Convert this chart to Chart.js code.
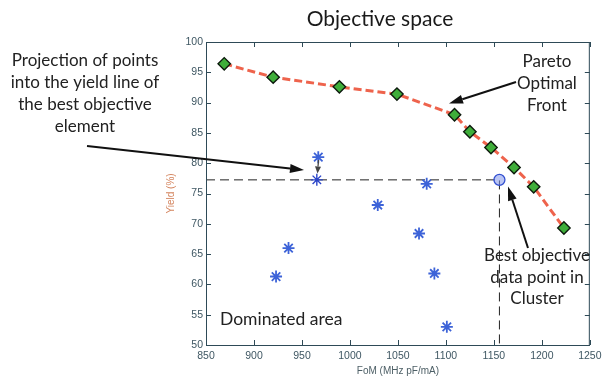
<!DOCTYPE html>
<html>
<head>
<meta charset="utf-8">
<script src="https://cdn.jsdelivr.net/npm/chart.js@4/dist/chart.umd.min.js"></script>
<style>
html,body{margin:0;padding:0;background:#fff;}
#wrap{width:606px;height:379px;position:relative;}
</style>
</head>
<body>
<div id="wrap"><canvas id="c" width="606" height="379"></canvas></div>
<script>
// ---- data ----
const paretoFoM   = [869, 920, 989, 1049, 1109, 1125, 1147, 1171, 1191.5, 1223];
const paretoYield = [96.4, 94.2, 92.6, 91.4, 88.0, 85.2, 82.6, 79.3, 76.1, 69.3];

const clusterFoM   = [967, 923, 936, 1029, 1080, 1072, 1088, 1101];
const clusterYield = [81.0, 61.3, 66.0, 73.1, 76.6, 68.4, 61.8, 53.0];

const projectedFoM   = [965.5];
const projectedYield = [77.25];

const bestFoM   = [1155.8];
const bestYield = [77.25];

const xTickValues = [850, 900, 950, 1000, 1050, 1100, 1150, 1200, 1250];
const yTickValues = [50, 55, 60, 65, 70, 75, 80, 85, 90, 95, 100];

const titleText = 'Objective space';
const xAxisTitle = 'FoM (MHz pF/mA)';
const yAxisTitle = 'Yield (%)';
const noteProjection = ['Projection of points', 'into the yield line of', 'the best objective', 'element'];
const notePareto = ['Pareto', 'Optimal', 'Front'];
const noteBest = ['Best objective', 'data point in', 'Cluster'];
const noteDominated = 'Dominated area';

// ---- build datasets ----
const zip = (xs, ys) => xs.map((x, i) => ({x, y: ys[i]}));
const guideLine = [
  {x: xTickValues[0], y: bestYield[0]},
  {x: bestFoM[0], y: bestYield[0]},
  {x: bestFoM[0], y: yTickValues[0]}
];

const axisColor = '#2e4a57';
const tickLabelColor = '#3f5763';
const textFont = 'Lato, "Open Sans", sans-serif';

const overlay = {
  id: 'overlay',
  beforeDatasetsDraw(chart) {
    const {ctx, chartArea: a} = chart;
    ctx.save();
    ctx.fillStyle = '#ffffff';
    ctx.fillRect(a.left, a.top, a.right - a.left, a.bottom - a.top);
    ctx.restore();
  },
  afterDraw(chart) {
    const {ctx, chartArea: a, scales} = chart;
    const xs = scales.x, ys = scales.y;
    ctx.save();
    // frame
    ctx.strokeStyle = axisColor;
    ctx.lineWidth = 1;
    ctx.strokeRect(a.left + 0.5, a.top + 0.5, a.right - a.left - 1, a.bottom - a.top);
    // inward ticks on all sides
    const tl = 5;
    ctx.beginPath();
    xTickValues.forEach(v => {
      const px = Math.round(xs.getPixelForValue(v)) + 0.5;
      ctx.moveTo(px, a.bottom); ctx.lineTo(px, a.bottom - tl);
      ctx.moveTo(px, a.top); ctx.lineTo(px, a.top + tl);
    });
    yTickValues.forEach(v => {
      const py = Math.round(ys.getPixelForValue(v)) + 0.5;
      ctx.moveTo(a.left, py); ctx.lineTo(a.left + tl, py);
      ctx.moveTo(a.right, py); ctx.lineTo(a.right - tl, py);
    });
    ctx.stroke();

    // title
    ctx.fillStyle = '#1a1a1a';
    ctx.textAlign = 'center';
    ctx.textBaseline = 'middle';
    ctx.font = '21px ' + textFont;
    ctx.fillText(titleText, 380, 19);

    // annotations text
    ctx.font = '17px ' + textFont;
    ctx.fillStyle = '#222';
    noteProjection.forEach((t, i) => ctx.fillText(t, 85, 61 + i * 22));
    notePareto.forEach((t, i) => ctx.fillText(t, 547, 62 + i * 22));
    noteBest.forEach((t, i) => ctx.fillText(t, 537, 256 + i * 21.5));
    ctx.textAlign = 'left';
    ctx.font = '17.5px ' + textFont;
    ctx.fillText(noteDominated, 220, 319);

    // arrows
    function arrow(x1, y1, x2, y2, color, w, hl, hw) {
      const ang = Math.atan2(y2 - y1, x2 - x1);
      const bx = x2 - hl * Math.cos(ang), by = y2 - hl * Math.sin(ang);
      ctx.strokeStyle = color; ctx.fillStyle = color; ctx.lineWidth = w;
      ctx.beginPath(); ctx.moveTo(x1, y1); ctx.lineTo(bx, by); ctx.stroke();
      ctx.beginPath();
      ctx.moveTo(x2, y2);
      ctx.lineTo(bx + hw * Math.sin(ang), by - hw * Math.cos(ang));
      ctx.lineTo(bx - hw * Math.sin(ang), by + hw * Math.cos(ang));
      ctx.closePath(); ctx.fill();
    }
    arrow(87, 146, 304, 170, '#111', 2, 14, 4.5);
    arrow(318.5, 160, 317.5, 173.5, '#444', 1.3, 7, 3);
    arrow(516, 82, 449, 103.5, '#111', 2, 14, 4.5);
    arrow(528, 248, 508, 186.5, '#111', 2, 14, 4.5);
    ctx.restore();
  }
};

new Chart(document.getElementById('c'), {
  type: 'scatter',
  data: {
    datasets: [
      {
        label: 'Best',
        data: zip(bestFoM, bestYield),
        pointStyle: 'circle',
        pointRadius: 5.5,
        borderColor: '#3350d0',
        backgroundColor: 'rgba(130,150,235,0.55)',
        borderWidth: 1.3,
        showLine: false,
        order: 0
      },
      {
        label: 'Projected',
        data: zip(projectedFoM, projectedYield),
        pointStyle: 'star',
        pointRadius: 6,
        borderColor: '#2a44c8',
        borderWidth: 1.4,
        showLine: false,
        order: 1
      },
      {
        label: 'Cluster',
        data: zip(clusterFoM, clusterYield),
        pointStyle: 'star',
        pointRadius: 6,
        borderColor: '#3d63d8',
        borderWidth: 1.8,
        showLine: false,
        order: 1
      },
      {
        label: 'Pareto',
        data: zip(paretoFoM, paretoYield),
        showLine: true,
        borderColor: 'rgba(236,82,56,0.9)',
        borderWidth: 3,
        borderDash: [8, 4],
        tension: 0,
        pointStyle: 'rectRot',
        pointRadius: 6.2,
        pointBackgroundColor: '#3fae3a',
        pointBorderColor: '#0d1a0d',
        pointBorderWidth: 1.4,
        order: 2
      },
      {
        label: 'Guide',
        data: guideLine,
        showLine: true,
        borderColor: '#222',
        borderWidth: 1,
        borderDash: [9, 5],
        pointRadius: 0,
        tension: 0,
        order: 3
      }
    ]
  },
  options: {
    responsive: false,
    animation: false,
    events: [],
    layout: {padding: {left: 165, top: 42, right: 10, bottom: 1.5}},
    plugins: {legend: {display: false}, tooltip: {enabled: false}, title: {display: false}},
    scales: {
      x: {
        type: 'linear',
        min: 850, max: 1250,
        afterBuildTicks: s => { s.ticks = xTickValues.map(v => ({value: v})); },
        afterFit: s => { s.height = 32.5; },
        grid: {display: false, drawTicks: false},
        border: {display: false},
        ticks: {
          padding: 4.5,
          color: tickLabelColor,
          font: {family: '"Liberation Sans", Arial, sans-serif', size: 10.5},
          maxRotation: 0,
          callback: v => String(v)
        },
        title: {
          display: true, text: xAxisTitle, color: '#4d5f66',
          font: {family: '"Liberation Sans", Arial, sans-serif', size: 10},
          padding: 0
        }
      },
      y: {
        type: 'linear',
        min: 50, max: 100,
        afterBuildTicks: s => { s.ticks = yTickValues.map(v => ({value: v})); },
        afterFit: s => { s.width = 41; },
        grid: {display: false, drawTicks: false},
        border: {display: false},
        ticks: {
          padding: 3,
          color: tickLabelColor,
          font: {family: '"Liberation Sans", Arial, sans-serif', size: 10.5},
          callback: v => String(v)
        },
        title: {
          display: true, text: yAxisTitle, color: '#d4845e',
          font: {family: '"Liberation Sans", Arial, sans-serif', size: 10},
          padding: 0
        }
      }
    }
  },
  plugins: [overlay]
});
</script>
</body>
</html>
